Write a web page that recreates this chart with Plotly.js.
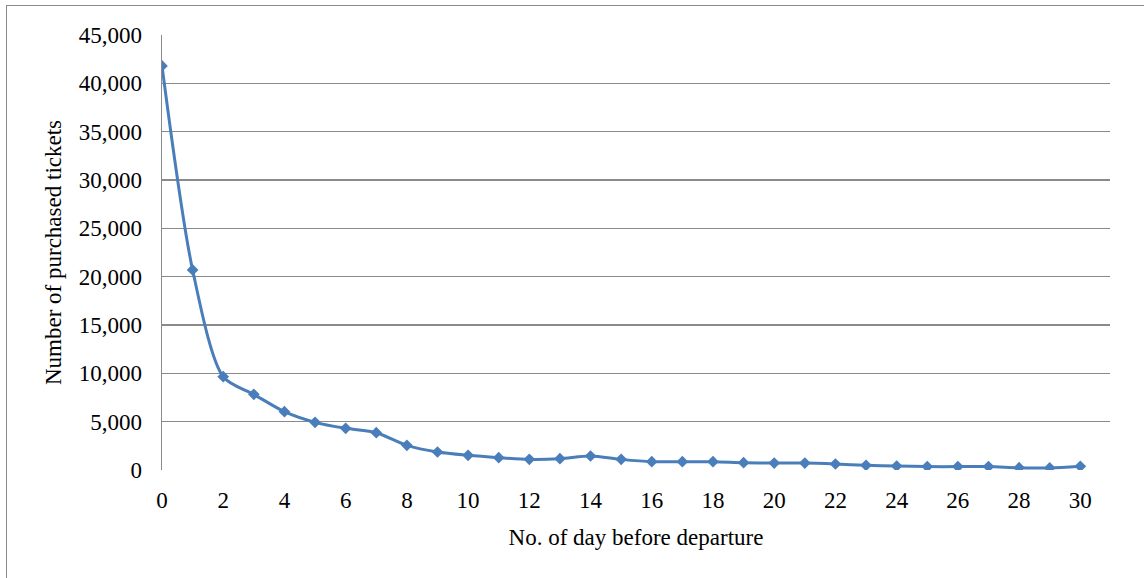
<!DOCTYPE html>
<html>
<head>
<meta charset="utf-8">
<script src="https://cdn.plot.ly/plotly-3.0.1.min.js"></script>
<style>
  html, body { margin: 0; padding: 0; background: #fff; }
  #wrap { position: relative; width: 1144px; height: 578px; }
  #chart { position: absolute; left: 0; top: 0; width: 1144px; height: 578px; }
  #frame { position: absolute; left: 6px; top: 5px; width: 1200px; height: 700px;
           border-left: 1.5px solid #8a8a8a; border-top: 1.5px solid #8a8a8a; pointer-events: none; }
</style>
</head>
<body>
<div id="wrap">
  <div id="chart"></div>
  <div id="frame"></div>
</div>
<script>
const days = [0,1,2,3,4,5,6,7,8,9,10,11,12,13,14,15,16,17,18,19,20,21,22,23,24,25,26,27,28,29,30];
const tickets = [41800,20700,9650,7830,6030,4930,4310,3860,2550,1860,1520,1280,1100,1170,1450,1100,860,860,860,760,720,720,620,480,410,350,350,350,240,210,380];
const xTickVals = [0,2,4,6,8,10,12,14,16,18,20,22,24,26,28,30];
const yTickVals = [0,5000,10000,15000,20000,25000,30000,35000,40000,45000];
const xTitle = "No. of day before departure";
const yTitle = "Number of purchased tickets";

const font = "'Liberation Serif', 'Times New Roman', serif";
const fs = 23;

Plotly.newPlot('chart', [{
  x: days,
  y: tickets,
  type: 'scatter',
  mode: 'lines+markers',
  line: { color: '#4a7ebb', width: 3, shape: 'spline', smoothing: 0.8 },
  marker: { symbol: 'diamond', size: 9, color: '#4a7ebb' },
  showlegend: false
}], {
  width: 1144, height: 578,
  margin: { l: 162, r: 34, t: 35, b: 108 },
  paper_bgcolor: '#fff', plot_bgcolor: '#fff',
  font: { family: font, size: fs, color: '#000' },
  xaxis: {
    range: [0, 30.97],
    tickvals: xTickVals,
    ticktext: xTickVals.map(String),
    showgrid: false,
    zeroline: false,
    showline: false,
    ticks: '',
    ticklabelstandoff: 14,
    tickfont: { family: font, size: fs, color: '#000' },
    title: { text: xTitle, font: { family: font, size: fs, color: '#000' }, standoff: 16 }
  },
  yaxis: {
    range: [0, 45000],
    tickvals: yTickVals,
    ticktext: yTickVals.map(v => v.toLocaleString('en-US')),
    showgrid: true,
    gridcolor: '#8a8a8a',
    gridwidth: 1.3,
    zeroline: false,
    showline: true,
    linecolor: '#8a8a8a',
    linewidth: 1.5,
    ticks: '',
    ticklabelstandoff: 14,
    tickfont: { family: font, size: fs, color: '#000' },
    title: { text: yTitle, font: { family: font, size: fs, color: '#000' }, standoff: 10 }
  }
}, { displayModeBar: false, staticPlot: true });
</script>
</body>
</html>
